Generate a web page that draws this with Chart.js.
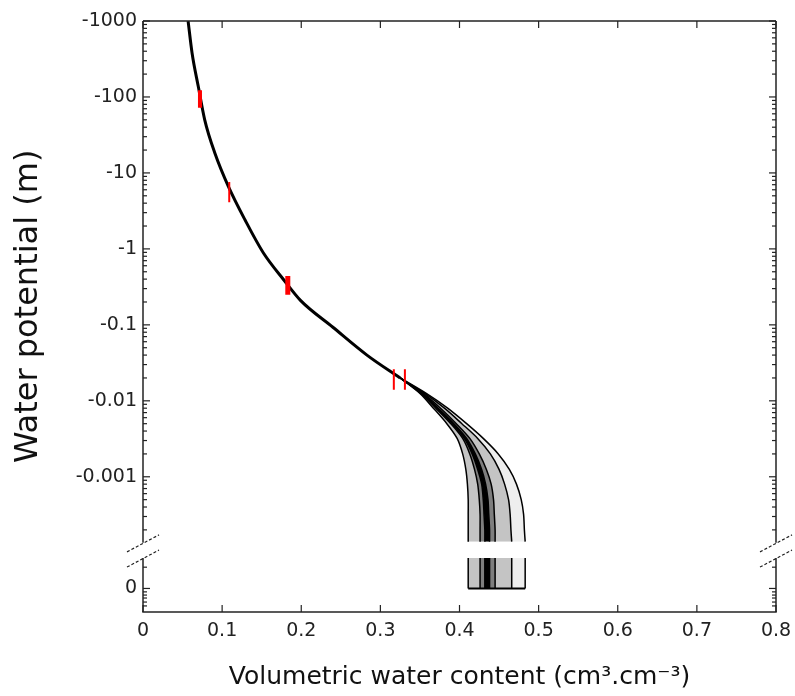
<!DOCTYPE html>
<html>
<head>
<meta charset="utf-8">
<title>Water retention curves</title>
<script src="https://cdn.jsdelivr.net/npm/chart.js"></script>
<style>
  html, body { margin: 0; padding: 0; background: #fff; }
  canvas { display: block; }
</style>
</head>
<body>
<canvas id="myChart" width="795" height="696"></canvas>
<script>
// shared dry part of the curve: water potential (m) against water content
const mainPotential = [-1000, -380, -135, -50, -18, -6.6, -2.4, -0.89, -0.39, -0.21, -0.093, -0.040, -0.020];
const mainTheta     = [0.057, 0.062, 0.070, 0.078, 0.091, 0.108, 0.129, 0.152, 0.178, 0.199, 0.240, 0.283, 0.325];

// wet end, where the curves split up (one row per curve)
const wetPotential = [-0.02, -0.0125, -0.008, -0.005, -0.0032, -0.002, -0.00125, -0.0008, -0.0005, -0.00032, -0.0002, -0.00014];
const wetTheta = [
  [0.325, 0.350, 0.367, 0.384, 0.397, 0.404, 0.408, 0.410, 0.411, 0.411, 0.411, 0.411],
  [0.325, 0.351, 0.370, 0.389, 0.404, 0.413, 0.419, 0.423, 0.425, 0.426, 0.426, 0.426],
  [0.325, 0.352, 0.372, 0.391, 0.406, 0.416, 0.423, 0.428, 0.430, 0.431, 0.432, 0.432],
  [0.325, 0.353, 0.373, 0.393, 0.409, 0.420, 0.428, 0.433, 0.436, 0.437, 0.438, 0.438],
  [0.325, 0.354, 0.376, 0.396, 0.413, 0.425, 0.434, 0.440, 0.443, 0.444, 0.445, 0.445],
  [0.325, 0.356, 0.381, 0.403, 0.423, 0.439, 0.450, 0.457, 0.462, 0.464, 0.465, 0.466],
  [0.325, 0.358, 0.385, 0.409, 0.430, 0.449, 0.463, 0.472, 0.478, 0.481, 0.482, 0.483]
];
// water content at saturation (potential 0) for each curve
const thetaSat = [0.411, 0.426, 0.432, 0.438, 0.445, 0.466, 0.483];
const bandColors = ['#c4c4c4', '#7e7e7e', '#000000', '#7e7e7e', '#c4c4c4', '#eeeeee'];

// red bars
const markTheta  = [0.072, 0.109, 0.183, 0.317, 0.331];
const markTop    = [-123, -7.6, -0.44, -0.026, -0.026];
const markBottom = [-72, -4.1, -0.25, -0.014, -0.014];
const markLineWidths = [4, 2, 5, 2, 2];

const yTickValues = [-1000, -100, -10, -1, -0.1, -0.01, -0.001, 0];
const yTickLabels = ['-1000', '-100', '-10', '-1', '-0.1', '-0.01', '-0.001', '0'];

// broken y axis: log10|h| above the break, 0 sits below it
const ZERO_POS = -4.47;
const BREAK_TOP = -3.87;
const BREAK_BOTTOM = -4.07;
const Y_MIN = -4.78, Y_MAX = 3;
function pos(h) { return h === 0 ? ZERO_POS : Math.log10(-h); }

const datasets = [];

// wet-end curves, filled band to band
wetTheta.forEach((row, i) => {
  datasets.push({
    data: row.map((t, j) => ({x: t, y: pos(wetPotential[j])})),
    indexAxis: 'y',
    borderColor: '#000', borderWidth: 1.5,
    backgroundColor: i > 0 ? bandColors[i - 1] : 'transparent',
    fill: i > 0 ? '-1' : false,
    tension: 0.3, pointRadius: 0, order: 3
  });
});
// the same curves below the break, down to 0
thetaSat.forEach((t, i) => {
  datasets.push({
    data: [{x: t, y: BREAK_BOTTOM}, {x: t, y: pos(0)}],
    indexAxis: 'y',
    borderColor: '#000', borderWidth: 1.5,
    backgroundColor: i > 0 ? bandColors[i - 1] : 'transparent',
    fill: i > 0 ? '-1' : false,
    pointRadius: 0, order: 3
  });
});
datasets.push({
  data: [{x: thetaSat[0], y: pos(0)}, {x: thetaSat[thetaSat.length - 1], y: pos(0)}],
  borderColor: '#000', borderWidth: 2, pointRadius: 0, fill: false, order: 2
});
datasets.push({
  data: mainTheta.map((t, j) => ({x: t, y: pos(mainPotential[j])})),
  borderColor: '#000', borderWidth: 3, pointRadius: 0, fill: false,
  cubicInterpolationMode: 'monotone', order: 1
});
markTheta.forEach((t, i) => {
  datasets.push({
    data: [{x: t, y: pos(markTop[i])}, {x: t, y: pos(markBottom[i])}],
    borderColor: '#ff0000', borderWidth: markLineWidths[i],
    pointRadius: 0, fill: false, order: 0
  });
});

// box, inward ticks and the axis break marks
const frame = {
  id: 'frame',
  afterDraw(chart) {
    const {ctx, chartArea: a, scales: {x, y}} = chart;
    const gapTop = y.getPixelForValue(BREAK_TOP);
    const gapBot = y.getPixelForValue(BREAK_BOTTOM);
    const seg = (x1, y1, x2, y2) => { ctx.beginPath(); ctx.moveTo(x1, y1); ctx.lineTo(x2, y2); ctx.stroke(); };
    ctx.save();
    ctx.strokeStyle = '#222';
    ctx.lineWidth = 1.5;
    seg(a.left, a.top, a.right, a.top);
    seg(a.left - 0.75, a.bottom, a.right + 0.75, a.bottom);
    [a.left, a.right].forEach(px => {
      seg(px, a.top, px, gapTop);
      seg(px, gapBot, px, a.bottom);
    });
    ctx.lineWidth = 1.2;
    x.ticks.forEach(t => {
      const px = x.getPixelForValue(t.value);
      seg(px, a.bottom, px, a.bottom - 7);
      seg(px, a.top, px, a.top + 7);
    });
    const yTick = (v, len) => {
      const py = y.getPixelForValue(v);
      seg(a.left, py, a.left + len, py);
      seg(a.right, py, a.right - len, py);
    };
    y.ticks.forEach(t => yTick(t.value, 7));
    for (let d = -4; d <= 2; d++) {
      for (let k = 2; k <= 9; k++) {
        const v = Math.log10(k) + d;
        if (v >= BREAK_TOP && v <= Y_MAX) yTick(v, 4);
      }
    }
    [-4.19, -4.515, -4.557, -4.596, -4.649, -4.70].forEach(v => yTick(v, 4));
    ctx.setLineDash([3, 2]);
    ctx.lineWidth = 1.2;
    [a.left, a.right].forEach(px => {
      seg(px - 16, gapTop + 9, px + 16, gapTop - 8);
      seg(px - 16, gapBot + 9, px + 16, gapBot - 8);
    });
    ctx.restore();
  }
};

Chart.defaults.font.family = '"DejaVu Sans", sans-serif';
Chart.defaults.color = '#222';

new Chart(document.getElementById('myChart').getContext('2d'), {
  type: 'line',
  data: {datasets},
  options: {
    responsive: false,
    animation: false,
    devicePixelRatio: 1,
    layout: {padding: {top: 21, right: 19, left: 0, bottom: 0}},
    plugins: {
      legend: {display: false},
      tooltip: {enabled: false},
      filler: {drawTime: 'beforeDatasetsDraw'}
    },
    scales: {
      x: {
        type: 'linear', min: 0, max: 0.8,
        grid: {display: false, drawTicks: false}, border: {display: false},
        ticks: {stepSize: 0.1, padding: 8, font: {size: 19}, color: '#222',
                callback: v => String(Math.round(v * 10) / 10)},
        title: {display: true, text: 'Volumetric water content (cm³.cm⁻³)',
                font: {size: 25}, color: '#111', padding: {top: 2, bottom: 4}},
        afterFit: s => { s.height = 84; s.paddingLeft = 0; s.paddingRight = 0; }
      },
      y: {
        type: 'linear', min: Y_MIN, max: Y_MAX,
        grid: {display: false, drawTicks: false}, border: {display: false},
        afterBuildTicks: s => { s.ticks = yTickValues.map(v => ({value: pos(v)})); },
        ticks: {autoSkip: false, padding: 6, font: {size: 19}, color: '#222',
                callback: v => {
                  const i = yTickValues.findIndex(h => Math.abs(pos(h) - v) < 1e-6);
                  return i >= 0 ? yTickLabels[i] : '';
                }},
        title: {display: true, text: '  Water potential (m)',
                font: {size: 32}, color: '#111', padding: {top: 9, bottom: 0}},
        afterFit: s => { s.width = 143; s.paddingTop = 0; s.paddingBottom = 0; }
      }
    }
  },
  plugins: [frame]
});
</script>
</body>
</html>
